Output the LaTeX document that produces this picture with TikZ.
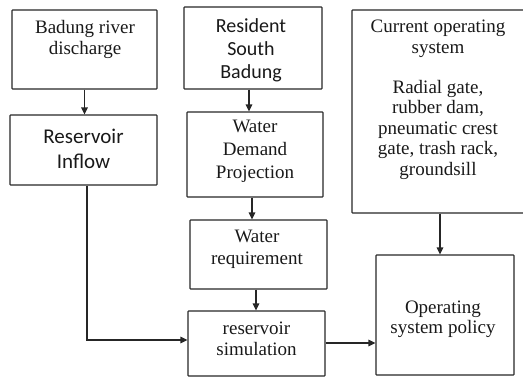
\documentclass[tikz,border=0pt]{standalone}
\usepackage{fontspec}
\setmainfont{Liberation Serif}
\newfontfamily\calib{Carlito}
\usetikzlibrary{arrows.meta}
\begin{document}
\begin{tikzpicture}[x=1pt,y=-1pt,
  box/.style={draw=black!85, line width=1.1pt, rectangle, inner sep=0pt, rounded corners=0.6pt},
  txt/.style={align=center, inner sep=0pt, anchor=north, text=black!90, font=\fontsize{19}{21}\selectfont},
  sans/.style={font=\calib\fontsize{20.5}{24}\selectfont},
  arr/.style={draw=black!85, line width=1.1pt, -{Triangle[length=7pt,width=6.5pt]}}]
\useasboundingbox (0,0) rectangle (523,378);
\clip (0,0) rectangle (523,378);
% boxes
\node[box, minimum width=145pt, minimum height=79pt] (b1) at (84.5,49.5) {};
\node[box, minimum width=147pt, minimum height=70pt] (b2) at (83.5,150) {};
\node[box, minimum width=138pt, minimum height=82pt] (b3) at (253,48) {};
\node[box, minimum width=136pt, minimum height=85pt] (b4) at (255,154.5) {};
\node[box, minimum width=173pt, minimum height=203pt] (b5) at (438.5,111.5) {};
\node[box, minimum width=137pt, minimum height=69pt] (b6) at (258.5,254.5) {};
\node[box, minimum width=137pt, minimum height=65pt] (b7) at (256.5,343.5) {};
\node[box, minimum width=138pt, minimum height=120pt] (b8) at (445,315) {};
% texts
\node[txt] (t1) at (85,20) {Badung river\\discharge};
\node[txt, sans, font=\calib\fontsize{21}{25}\selectfont] (t2) at (83.5,128.5) {Reservoir\\Inflow};
\node[txt, sans, font=\calib\fontsize{20}{23}\selectfont] (t3) at (251,18) {Resident\\South\\Badung};
\node[txt, font=\fontsize{19}{23}\selectfont] (t4) at (255,120) {Water\\Demand\\Projection};
\node[txt, font=\fontsize{19}{20.5}\selectfont] (t5a) at (438,20) {Current operating\\system};
\node[txt, font=\fontsize{19}{20.5}\selectfont] (t5b) at (438,80) {Radial gate,\\rubber dam,\\pneumatic crest\\gate, trash rack,\\groundsill};
\node[txt, font=\fontsize{19}{22}\selectfont] (t6) at (257,230) {Water\\requirement};
\node[txt] (t7) at (256.5,322) {reservoir\\simulation};
\node[txt, font=\fontsize{19}{20}\selectfont] (t8) at (443,301) {Operating\\system policy};
% connectors
\draw[arr] (b1.south) -- (b1.south |- b2.north);
\draw[arr] ([xshift=-4pt]b3.south) -- ([xshift=-4pt]b3.south |- b4.north);
\draw[arr] ([xshift=-3pt]b4.south) -- ([xshift=-3pt]b4.south |- b6.north);
\draw[arr] ([xshift=-2.5pt]b6.south) -- ([xshift=-2.5pt]b6.south |- b7.north);
\draw[arr] ([xshift=1.5pt]b5.south) -- ([xshift=1.5pt]b5.south |- b8.north);
\draw[arr] ([xshift=3.5pt]b2.south) |- ([yshift=3.5pt]b7.west);
\draw[arr] ([yshift=0.5pt]b7.east) -- ([yshift=0.5pt]b7.east -| b8.west);
\end{tikzpicture}
\end{document}
